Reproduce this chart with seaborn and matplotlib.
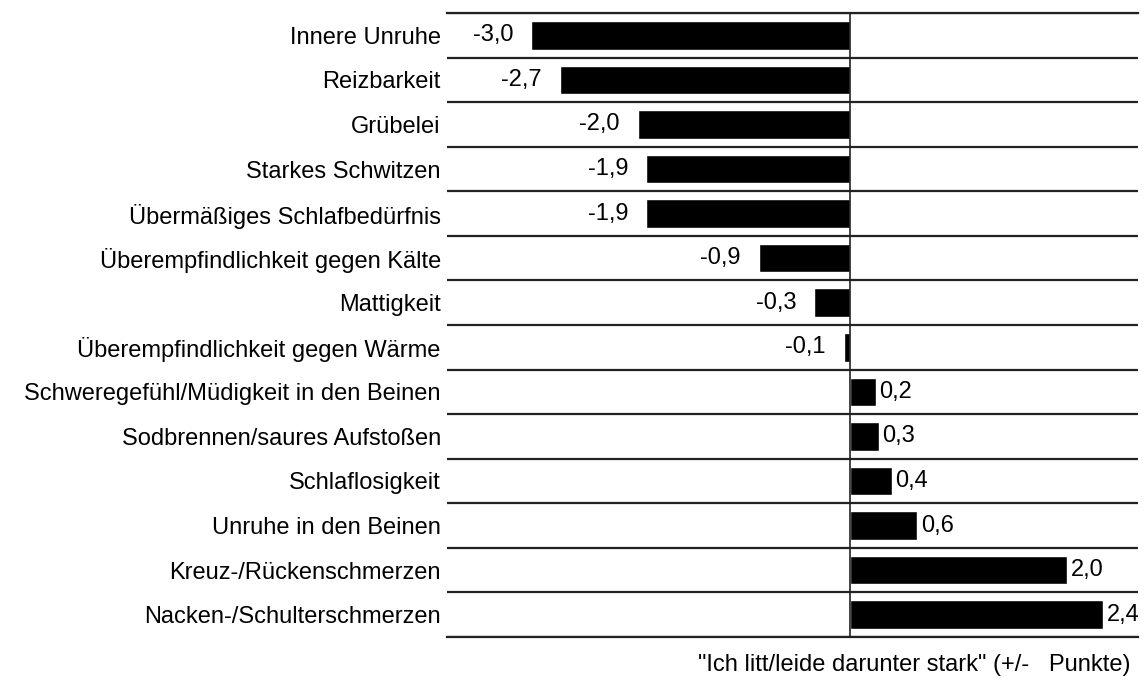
import numpy as np
import pandas as pd
import seaborn as sns
import matplotlib
matplotlib.use("Agg")
import matplotlib.pyplot as plt

# Daten (Balkenlängen)
symptome = [
    "Innere Unruhe",
    "Reizbarkeit",
    "Grübelei",
    "Starkes Schwitzen",
    "Übermäßiges Schlafbedürfnis",
    "Überempfindlichkeit gegen Kälte",
    "Mattigkeit",
    "Überempfindlichkeit gegen Wärme",
    "Schweregefühl/Müdigkeit in den Beinen",
    "Sodbrennen/saures Aufstoßen",
    "Schlaflosigkeit",
    "Unruhe in den Beinen",
    "Kreuz-/Rückenschmerzen",
    "Nacken-/Schulterschmerzen",
]
punkte = [-3.0, -2.73, -2.0, -1.92, -1.92, -0.86, -0.34, -0.06,
          0.24, 0.27, 0.39, 0.63, 2.04, 2.38]
achsen_titel = '"Ich litt/leide darunter stark" (+/-   Punkte)'

df = pd.DataFrame({"symptom": symptome, "punkte": punkte})

sns.set_theme(style="white")
plt.rcParams["font.family"] = ["Liberation Sans", "DejaVu Sans"]
plt.rcParams["text.color"] = "black"
plt.rcParams["ytick.color"] = "black"
plt.rcParams["ytick.labelcolor"] = "black"

fig = plt.figure(figsize=(11.46, 6.81), dpi=100)
ax = fig.add_axes([447 / 1146, 1 - 637 / 681, 691 / 1146, 624 / 681])

sns.barplot(data=df, y="symptom", x="punkte", color="black",
            saturation=1, width=0.64, orient="h", ax=ax)

ax.set_xlim(-3.794, 2.707)
ax.set_xticks([])
ax.set_xlabel("")
ax.set_ylabel("")
ax.tick_params(axis="y", length=0, pad=4.5, labelsize=17, labelcolor="black")

# Trennlinien zwischen den Zeilen
n = len(symptome)
ax.set_yticks(np.arange(n + 1) - 0.5, minor=True)
ax.grid(axis="y", which="minor", color="#222222", linewidth=1.6)
ax.grid(axis="y", which="major", visible=False)
ax.tick_params(axis="y", which="minor", length=0)
ax.axvline(0, color="#222222", linewidth=1.2, zorder=3)

for s in ["left", "right"]:
    ax.spines[s].set_visible(False)
for s in ["top", "bottom"]:
    ax.spines[s].set_color("#222222")
    ax.spines[s].set_linewidth(1.6)

# Werte-Beschriftung
container = ax.containers[0]
fmt = [f"{v:.1f}".replace(".", ",") for v in punkte]
neg = [t if v < 0 else "" for t, v in zip(fmt, punkte)]
pos = [t if v >= 0 else "" for t, v in zip(fmt, punkte)]
ax.bar_label(container, labels=neg, padding=13, fontsize=17, color="black")
ax.bar_label(container, labels=pos, padding=2.5, fontsize=17, color="black")

fig.text(1130 / 1146, 1 - 665 / 681, achsen_titel, ha="right",
         va="center", fontsize=17, color="black")

fig.savefig("out.png", dpi=100)
